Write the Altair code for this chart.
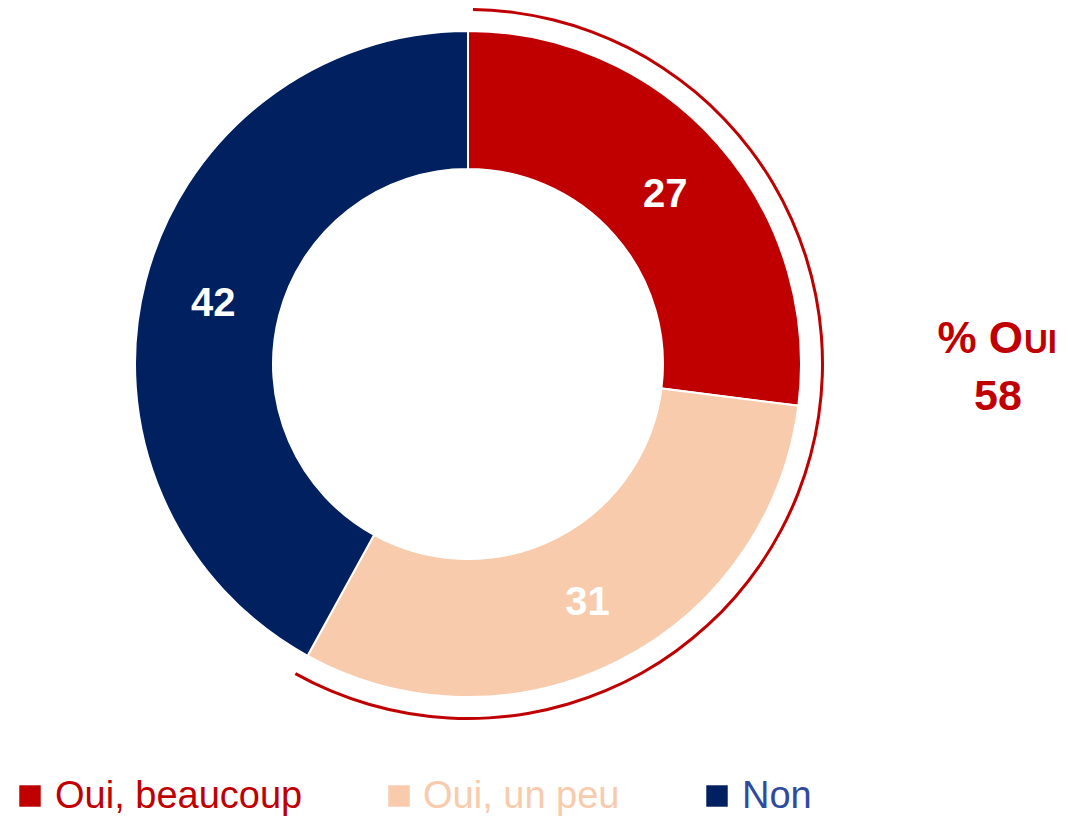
import altair as alt
import pandas as pd
import math

categories = ["Oui, beaucoup", "Oui, un peu", "Non"]
values = [27, 31, 42]
colors = ["#C00000", "#F8CBAD", "#002060"]
label_colors = ["#C00000", "#F8CBAD", "#2F4A9E"]
total_oui_label = "58"

df = pd.DataFrame({"cat": categories, "value": values, "order": [0, 1, 2]})

CX, CY = 460, 356
W, H = 1053, 808

color_scale = alt.Scale(domain=categories, range=colors)

base = alt.Chart(df).encode(
    theta=alt.Theta("value:Q", stack=True),
    order=alt.Order("order:Q"),
    x=alt.value(CX),
    y=alt.value(CY),
)

donut = base.mark_arc(radius=333, radius2=195, stroke="white", strokeWidth=2).encode(
    color=alt.Color("cat:N", scale=color_scale, legend=None)
)

labels = base.mark_text(
    radius=263, font="Liberation Sans", fontSize=40, fontWeight="bold", color="white", dy=5
).encode(text=alt.Text("value:Q"))

oui_share = (values[0] + values[1]) / sum(values)
outline = alt.Chart(pd.DataFrame({"k": [0]})).mark_arc(
    radius=356, radius2=353, theta=0.014, theta2=2 * math.pi * oui_share + 0.006,
    color="#C00000",
).encode(x=alt.value(CX), y=alt.value(CY))

one = pd.DataFrame({"k": [0]})
pct_a = alt.Chart(one).mark_text(
    text="% O", font="Liberation Sans", fontSize=44, fontWeight="bold", color="#C00000",
    align="right", baseline="alphabetic",
).encode(x=alt.value(1015), y=alt.value(345))
pct_b = alt.Chart(one).mark_text(
    text="UI", font="Liberation Sans", fontSize=33, fontWeight="bold", color="#C00000",
    align="left", baseline="alphabetic",
).encode(x=alt.value(1016), y=alt.value(345))
pct_n = alt.Chart(one).mark_text(
    text=total_oui_label, font="Liberation Sans", fontSize=43, fontWeight="bold", color="#C00000",
    align="center", baseline="alphabetic",
).encode(x=alt.value(990), y=alt.value(402))

legend_layers = []
sq_x = [22, 391, 709]
tx_x = [47, 415, 734]
for i, c in enumerate(categories):
    legend_layers.append(
        alt.Chart(one).mark_square(size=460, color=colors[i], opacity=1, filled=True)
        .encode(x=alt.value(sq_x[i]), y=alt.value(788))
    )
    legend_layers.append(
        alt.Chart(one).mark_text(
            text=c, font="Liberation Sans", fontSize=38, color=label_colors[i],
            align="left", baseline="alphabetic",
        ).encode(x=alt.value(tx_x[i]), y=alt.value(800))
    )

chart = alt.layer(donut, labels, outline, pct_a, pct_b, pct_n, *legend_layers).properties(
    width=W, height=H, padding=0, autosize=alt.AutoSizeParams(type="none")
).configure_view(strokeWidth=0)

chart.save("out.html", embed_options={"renderer": "svg", "actions": False})
